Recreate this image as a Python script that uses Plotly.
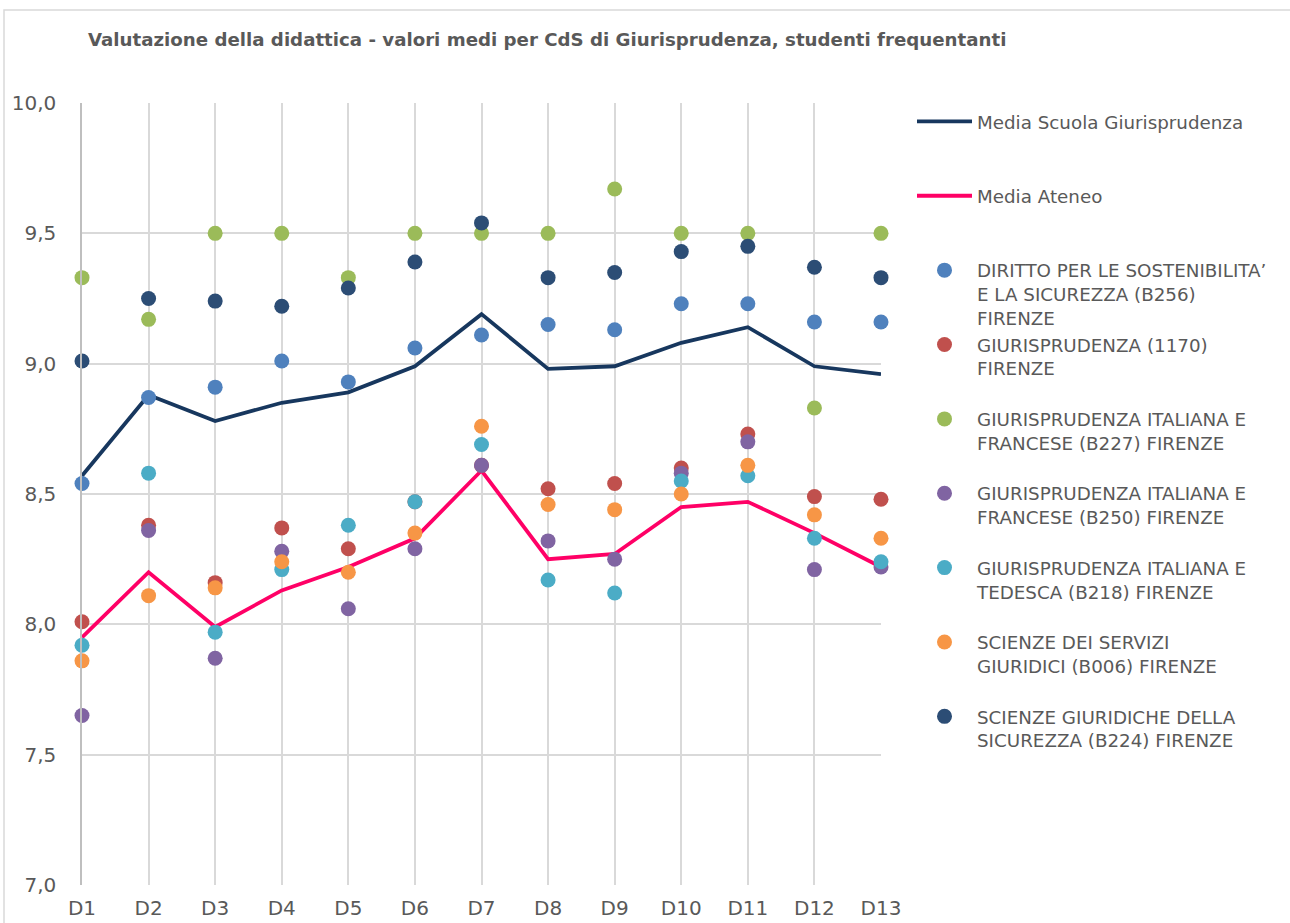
import plotly.graph_objects as go

categories = ["D1", "D2", "D3", "D4", "D5", "D6", "D7", "D8", "D9", "D10", "D11", "D12", "D13"]

media_scuola = [8.57, 8.88, 8.78, 8.85, 8.89, 8.99, 9.19, 8.98, 8.99, 9.08, 9.14, 8.99, 8.96]
media_ateneo = [7.95, 8.20, 7.99, 8.13, 8.22, 8.33, 8.59, 8.25, 8.27, 8.45, 8.47, 8.35, 8.22]

diritto_b256 = [8.54, 8.87, 8.91, 9.01, 8.93, 9.06, 9.11, 9.15, 9.13, 9.23, 9.23, 9.16, 9.16]
giur_1170 = [8.01, 8.38, 8.16, 8.37, 8.29, 8.47, 8.61, 8.52, 8.54, 8.60, 8.73, 8.49, 8.48]
giur_b227 = [9.33, 9.17, 9.50, 9.50, 9.33, 9.50, 9.50, 9.50, 9.67, 9.50, 9.50, 8.83, 9.50]
giur_b250 = [7.65, 8.36, 7.87, 8.28, 8.06, 8.29, 8.61, 8.32, 8.25, 8.58, 8.70, 8.21, 8.22]
giur_b218 = [7.92, 8.58, 7.97, 8.21, 8.38, 8.47, 8.69, 8.17, 8.12, 8.55, 8.57, 8.33, 8.24]
serv_b006 = [7.86, 8.11, 8.14, 8.24, 8.20, 8.35, 8.76, 8.46, 8.44, 8.50, 8.61, 8.42, 8.33]
sic_b224 = [9.01, 9.25, 9.24, 9.22, 9.29, 9.39, 9.54, 9.33, 9.35, 9.43, 9.45, 9.37, 9.33]

line_series = [
    ("Media Scuola Giurisprudenza", media_scuola, "#17375E"),
    ("Media Ateneo", media_ateneo, "#FF0066"),
]
dot_series = [
    ("DIRITTO PER LE SOSTENIBILITA’<br>E LA SICUREZZA (B256)<br>FIRENZE", diritto_b256, "#4F81BD"),
    ("GIURISPRUDENZA (1170)<br>FIRENZE", giur_1170, "#C0504D"),
    ("GIURISPRUDENZA ITALIANA E<br>FRANCESE (B227) FIRENZE", giur_b227, "#9BBB59"),
    ("GIURISPRUDENZA ITALIANA E<br>FRANCESE (B250) FIRENZE", giur_b250, "#8064A2"),
    ("GIURISPRUDENZA ITALIANA E<br>TEDESCA (B218) FIRENZE", giur_b218, "#4BACC6"),
    ("SCIENZE DEI SERVIZI<br>GIURIDICI (B006) FIRENZE", serv_b006, "#F79646"),
    ("SCIENZE GIURIDICHE DELLA<br>SICUREZZA (B224) FIRENZE", sic_b224, "#2C4D75"),
]

def pad3(label):
    n = label.count("<br>") + 1
    return label + "<br>\u00a0" * (3 - n)

fig = go.Figure()
for name, vals, col in line_series:
    fig.add_trace(go.Scatter(x=categories, y=vals, mode="lines", name=pad3(name),
                             line=dict(color=col, width=3.8), cliponaxis=False))
for name, vals, col in dot_series:
    fig.add_trace(go.Scatter(x=categories, y=vals, mode="markers", name=pad3(name),
                             marker=dict(color=col, size=15), cliponaxis=False))

L, R, T, B = 82, 409, 103, 38
W, H = 1290, 923
pw = W - L - R
ph = H - T - B

fig.update_layout(
    width=W, height=H,
    margin=dict(l=L, r=R, t=T, b=B, autoexpand=False),
    paper_bgcolor="white", plot_bgcolor="white",
    separators=",.",
    font=dict(family="DejaVu Sans", color="#595959"),
    title=dict(text="<b>Valutazione della didattica - valori medi per CdS di Giurisprudenza, studenti frequentanti</b>",
               xref="container", yref="container", x=88 / W, xanchor="left",
               y=1 - 40 / H, yanchor="middle",
               font=dict(family="DejaVu Sans", size=18.2, color="#595959")),
    xaxis=dict(type="category", range=[0, 12], showgrid=True, gridcolor="#D9D9D9", gridwidth=1.5,
               showline=False, zeroline=False, ticks="", ticklabelstandoff=9, automargin=False,
               tickfont=dict(size=20, color="#595959")),
    yaxis=dict(range=[7, 10], dtick=0.5, tick0=7, tickformat=".1f", showgrid=True,
               gridcolor="#D9D9D9", gridwidth=1.5, zeroline=False, showline=True,
               linecolor="#BFBFBF", linewidth=1.5, ticks="", ticklabelstandoff=20, automargin=False,
               tickfont=dict(size=20, color="#595959")),
    legend=dict(x=(912 - L) / pw, xanchor="left", y=1.0, yanchor="top",
                font=dict(size=18.3, color="#595959"), valign="top",
                itemwidth=55, bgcolor="rgba(0,0,0,0)"),
    showlegend=True,
)

fig.add_shape(type="rect", xref="paper", yref="paper",
              x0=(4 - L) / pw, x1=(1300 - L) / pw,
              y0=-(940 - (H - B)) / ph, y1=1 + (T - 10) / ph,
              line=dict(color="#D9D9D9", width=1.5), fillcolor="rgba(0,0,0,0)", layer="below")

fig.write_html("out.html", config={"displayModeBar": False},
               post_script="document.body.style.margin='0';document.body.style.overflow='hidden';")
